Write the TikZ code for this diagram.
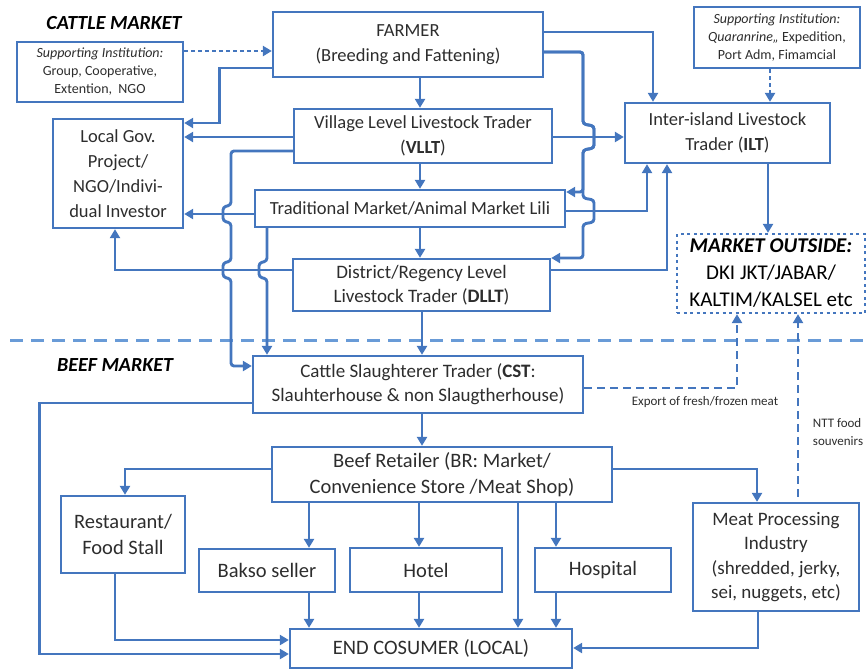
\documentclass[tikz,border=0pt]{standalone}
\usepackage{fontspec}
\setmainfont{Carlito}
\usetikzlibrary{arrows.meta}
\definecolor{lineblue}{RGB}{68,118,190}
\definecolor{sepblue}{RGB}{105,155,215}
\definecolor{txtgray}{RGB}{45,45,45}
\tikzstyle{box} = [draw=lineblue, line width=2.3pt, align=center, inner sep=0pt, text=txtgray, font=\fontsize{18.5}{25}\selectfont]
\tikzstyle{lowbox} = [box, font=\fontsize{20.5}{26}\selectfont]
\tikzstyle{supbox} = [box, font=\fontsize{14}{18}\selectfont]
\tikzstyle{arrow} = [line width=2.9pt, draw=lineblue, -{Triangle[length=9pt,width=10pt]}]
\tikzstyle{dotarrow} = [arrow, dash pattern=on 3.5pt off 3.5pt]
\tikzstyle{dasharrow} = [arrow, dash pattern=on 8pt off 5pt]
\tikzstyle{title} = [text=black, font=\fontsize{20}{24}\selectfont\bfseries\itshape]
\tikzstyle{note} = [text=txtgray, font=\fontsize{13}{18}\selectfont, align=left]
% small jogs where one line crosses another
\newcommand{\bumpL}[2]{-- (#1,#2-9) -- (#1-8,#2-7) -- (#1-8,#2+7) -- (#1,#2+9)}
\newcommand{\bumpR}[2]{-- (#1,#2-13) -- (#1+11,#2-11) -- (#1+11,#2+11) -- (#1,#2+13)}

\begin{document}
\begin{tikzpicture}[x=1pt, y=-1pt]
    \useasboundingbox (0,0) rectangle (866,670);
    \coordinate (spine) at (420,0);
    \coordinate (spinelow) at (422,0);

    % cattle market
    \node[title] (cattle) at (114,23) {CATTLE MARKET};
    \node[supbox, minimum width=166pt, minimum height=60pt] (supgroup) at (100,72) {\textit{Supporting Institution:}\\Group, Cooperative,\\Extention,\ \ NGO};
    \node[box, minimum width=270pt, minimum height=65pt] (farmer) at (408,44.5) {FARMER\\(Breeding and Fattening)};
    \node[supbox, minimum width=166pt, minimum height=61pt] (support) at (777,37.5) {\textit{Supporting Institution:}\\\textit{Quaranrine,,} Expedition,\\Port Adm, Fimamcial};
    \node[box, minimum width=130pt, minimum height=109pt] (localgov) at (118,173.5) {Local Gov.\\Project/\\NGO/Indivi-\\dual Investor};
    \node[box, minimum width=258pt, minimum height=54pt] (vllt) at (423,136) {Village Level Livestock Trader\\(\textbf{VLLT})};
    \node[box, minimum width=205pt, minimum height=60pt] (ilt) at (727.5,133) {Inter-island Livestock\\Trader (\textbf{ILT})};
    \node[box, minimum width=310pt, minimum height=37pt] (trad) at (410,208.5) {Traditional Market/Animal Market Lili};
    \node[box, minimum width=257pt, minimum height=52pt, font=\fontsize{19}{24}\selectfont] (dllt) at (421.5,285) {District/Regency Level\\Livestock Trader (\textbf{DLLT})};
    \node[box, dash pattern=on 3pt off 3.5pt, minimum width=188pt, minimum height=79pt, text=black, font=\fontsize{21}{27}\selectfont] (outside) at (771,273.5) {\textbf{\textit{MARKET OUTSIDE:}}\\DKI JKT/JABAR/\\KALTIM/KALSEL etc};

    \draw[sepblue, line width=3pt, dash pattern=on 13pt off 8pt] (10,340) -- (866,340);

    % beef market
    \node[title] (beef) at (115,365) {BEEF MARKET};
    \node[box, minimum width=330pt, minimum height=57pt, font=\fontsize{19}{24}\selectfont] (cst) at (418,384.5) {Cattle Slaughterer Trader (\textbf{CST}:\\Slauhterhouse \& non Slaugtherhouse)};
    \node[lowbox, minimum width=340pt, minimum height=55pt] (br) at (442,474.5) {Beef Retailer (BR: Market/\\Convenience Store /Meat Shop)};
    \node[lowbox, minimum width=124pt, minimum height=77pt] (rest) at (123,534.5) {Restaurant/\\Food Stall};
    \node[lowbox, minimum width=136pt, minimum height=43pt] (bakso) at (267,570.5) {Bakso seller};
    \node[lowbox, minimum width=152pt, minimum height=44pt] (hotel) at (426,570) {Hotel};
    \node[lowbox, minimum width=136pt, minimum height=44pt] (hospital) at (603,570) {Hospital};
    \node[box, minimum width=166pt, minimum height=108pt, font=\fontsize{19}{24.5}\selectfont] (meat) at (776,557) {Meat Processing\\Industry\\(shredded, jerky,\\sei, nuggets, etc)};
    \node[lowbox, minimum width=282pt, minimum height=39pt] (endc) at (431,648.5) {END COSUMER (LOCAL)};
    \node[note] (export) at (705,402) {Export of fresh/frozen meat};
    \node[note] (ntt) at (838,432) {NTT food\\souvenirs};

    % main chain
    \draw[arrow] (farmer.south -| spine) -- (vllt.north -| spine);
    \draw[arrow] (vllt.south -| spine) -- (trad.north -| spine);
    \draw[arrow] (trad.south -| spine) -- (dllt.north -| spine);
    \draw[arrow] (dllt.south -| spinelow) -- (cst.north -| spinelow);
    \draw[arrow] (cst.south -| spinelow) -- (br.north -| spinelow);

    % to local gov / slaughterer
    \draw[dotarrow] (supgroup.east |- 0,51) -- (farmer.west |- 0,51);
    \draw[arrow] (farmer.west |- 0,68) -- ++(-52,0) |- (localgov.east |- 0,123);
    \draw[arrow] (vllt.west |- 0,137) -- (localgov.east |- 0,137);
    \draw[arrow, rounded corners=3pt] (vllt.west |- 0,151) -- (231,151) \bumpL{231}{214} \bumpL{231}{270} |- (cst.west |- 0,366);
    \draw[arrow] (trad.west |- 0,214) -- (localgov.east |- 0,214);
    \draw[arrow, rounded corners=3pt] (trad.south -| 267,0) \bumpL{267}{270} -- (cst.north -| 267,0);
    \draw[arrow] (dllt.west |- 0,270) -| (localgov.south -| 115,0);

    % to inter-island trader
    \draw[arrow] (farmer.east |- 0,32) -| (ilt.north -| 653,0);
    \draw[arrow, rounded corners=3pt] (farmer.east |- 0,52) -- (583,52) \bumpR{583}{137} |- (trad.east |- 0,192);
    \draw[arrow, rounded corners=3pt] (farmer.east |- 0,52) -- (583,52) \bumpR{583}{137} \bumpR{583}{211} |- (dllt.east |- 0,258);
    \draw[arrow] (vllt.east |- 0,137) -- (ilt.west |- 0,137);
    \draw[arrow] (trad.east |- 0,211) -| (ilt.south -| 647,0);
    \draw[arrow] (dllt.east |- 0,270) -| (ilt.south -| 667,0);
    \draw[dotarrow] (support.south -| 770,0) -- (ilt.north -| 770,0);
    \draw[arrow] (ilt.south -| 768,0) -- (outside.north -| 768,0);

    % export
    \draw[dasharrow] (cst.east |- 0,388) -| (outside.south -| 737,0);
    \draw[dasharrow, shorten <=5pt] (meat.north -| 798,0) -- (outside.south -| 798,0);

    % retail
    \draw[arrow] (cst.west |- 0,403) -- ++(-212,0) |- (endc.west |- 0,654);
    \draw[arrow] (br.west |- 0,469) -| (rest.north -| 125,0);
    \draw[arrow] (br.east |- 0,469) -| (meat.north -| 757,0);
    \draw[arrow] (br.south -| 309,0) -- (bakso.north -| 309,0);
    \draw[arrow] (br.south -| 419,0) -- (hotel.north -| 419,0);
    \draw[arrow] (br.south -| 518,0) -- (endc.north -| 518,0);
    \draw[arrow] (br.south -| 556,0) -- (hospital.north -| 556,0);
    \draw[arrow] (bakso.south -| 309,0) -- (endc.north -| 309,0);
    \draw[arrow] (hotel.south -| 419,0) -- (endc.north -| 419,0);
    \draw[arrow] (hospital.south -| 556,0) -- (endc.north -| 556,0);
    \draw[arrow] (rest.south -| 115,0) |- (endc.west |- 0,640);
    \draw[arrow] (meat.south -| 758,0) |- (endc.east |- 0,648);
\end{tikzpicture}
\end{document}
